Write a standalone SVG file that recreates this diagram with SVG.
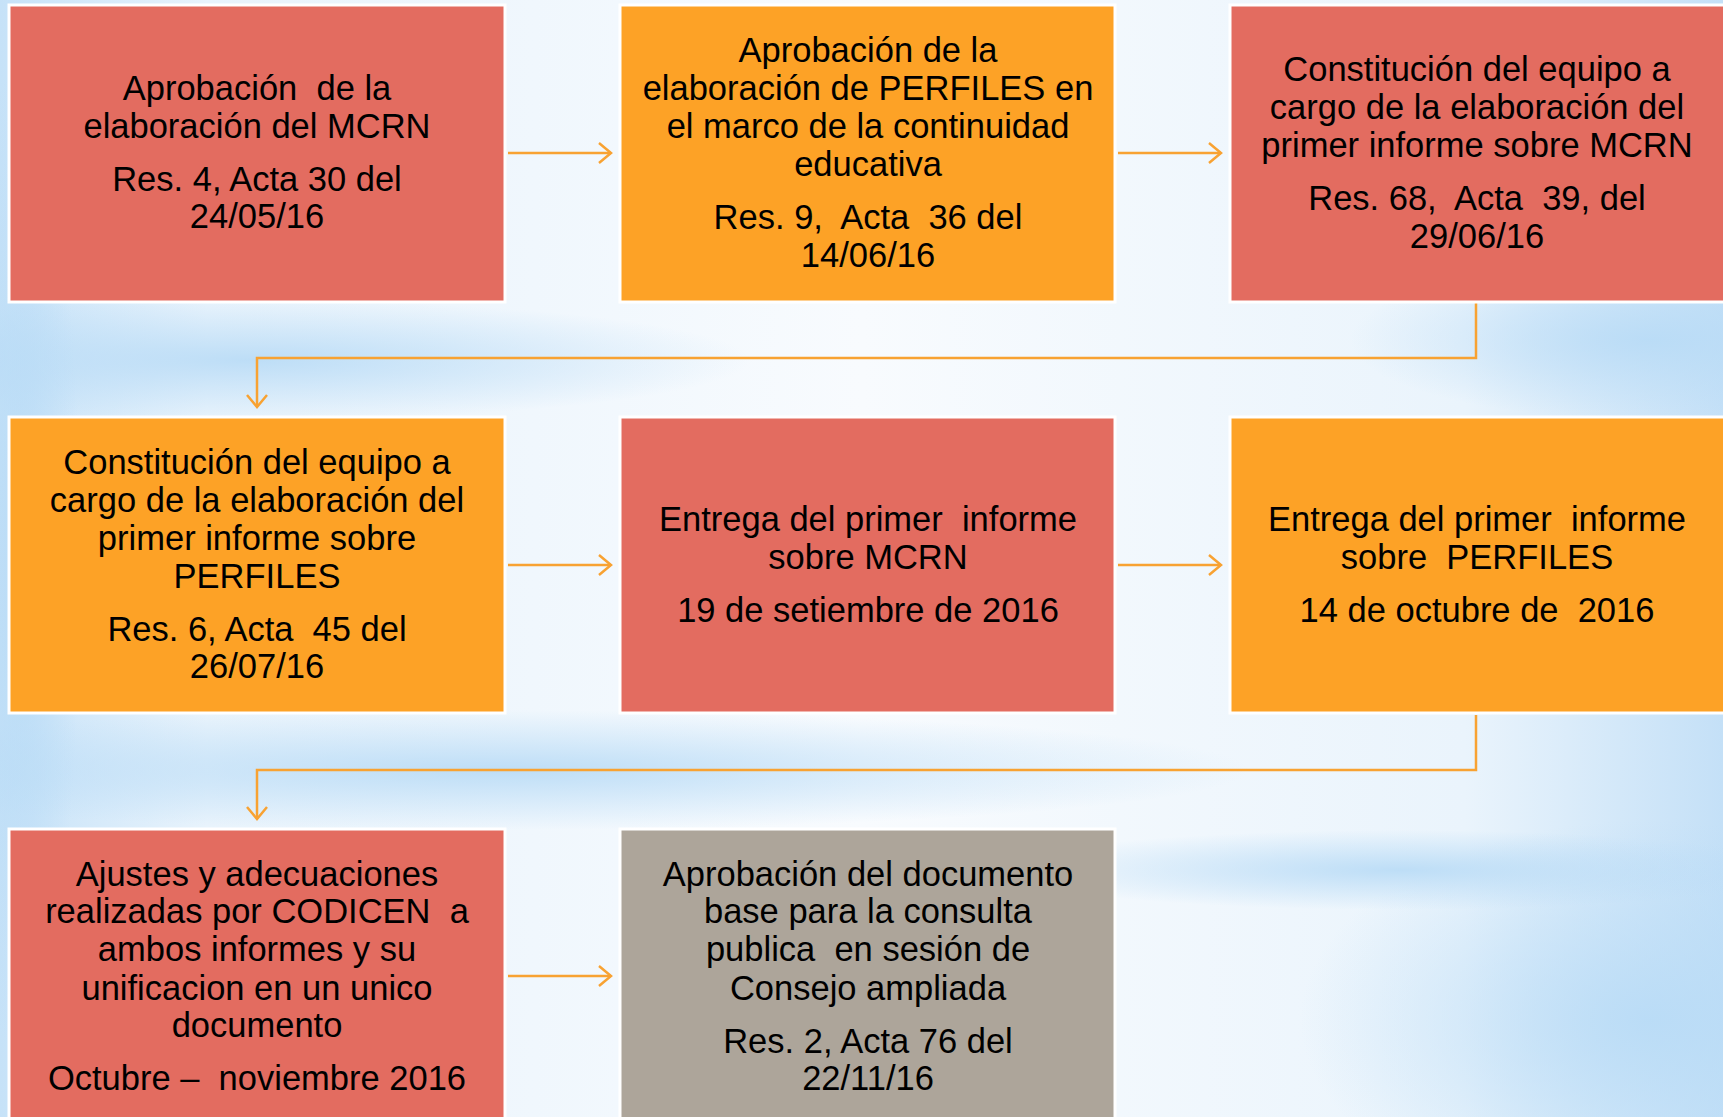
<svg xmlns="http://www.w3.org/2000/svg" width="1723" height="1117" viewBox="0 0 1723 1117">
<defs>
<style>
.box{stroke:#ffffff;stroke-width:3}
.red{fill:#e36c60}
.orange{fill:#fda226}
.gray{fill:#ada59a}
text{font-family:"Liberation Sans",Arial,sans-serif;font-size:34.5px;fill:#000;text-anchor:middle;white-space:pre}
.conn{fill:none;stroke:#f8a232;stroke-width:2.5}
</style>
<marker id="arr" markerUnits="userSpaceOnUse" markerWidth="16" markerHeight="24" viewBox="0 0 16 24" refX="14" refY="12" orient="auto">
<path d="M2,2 L14,12 L2,22" fill="none" stroke="#f8a232" stroke-width="2.5"/>
</marker>
<linearGradient id="bgH" x1="0" y1="0" x2="1" y2="0">
<stop offset="0" stop-color="#c6e2f8"/>
<stop offset="0.12" stop-color="#e8f3fc"/>
<stop offset="0.5" stop-color="#f8fbfe"/>
<stop offset="0.85" stop-color="#eaf4fc"/>
<stop offset="1" stop-color="#c4e0f7"/>
</linearGradient>
<radialGradient id="blob" cx="0.5" cy="0.5" r="0.5">
<stop offset="0" stop-color="#b8dbf6" stop-opacity="0.9"/>
<stop offset="1" stop-color="#b8dbf6" stop-opacity="0"/>
</radialGradient>
</defs>
<rect x="0" y="0" width="1723" height="1117" fill="url(#bgH)"/>
<ellipse cx="250" cy="360" rx="500" ry="60" fill="url(#blob)"/>
<ellipse cx="500" cy="770" rx="750" ry="60" fill="url(#blob)"/>
<ellipse cx="1650" cy="340" rx="300" ry="80" fill="url(#blob)"/>
<ellipse cx="1650" cy="1020" rx="350" ry="200" fill="url(#blob)"/>
<ellipse cx="1400" cy="870" rx="400" ry="40" fill="url(#blob)"/>
<ellipse cx="20" cy="560" rx="60" ry="500" fill="url(#blob)"/>

<g id="connectors">
<line class="conn" x1="508" y1="153" x2="611" y2="153" marker-end="url(#arr)"/>
<line class="conn" x1="1118" y1="153" x2="1221" y2="153" marker-end="url(#arr)"/>
<polyline class="conn" points="1476,303 1476,358 257,358 257,407" marker-end="url(#arr)"/>
<line class="conn" x1="508" y1="565" x2="611" y2="565" marker-end="url(#arr)"/>
<line class="conn" x1="1118" y1="565" x2="1221" y2="565" marker-end="url(#arr)"/>
<polyline class="conn" points="1476,715 1476,770 257,770 257,819" marker-end="url(#arr)"/>
<line class="conn" x1="508" y1="976" x2="611" y2="976" marker-end="url(#arr)"/>
</g>

<g id="node1">
<rect class="box red" x="9" y="5" width="496" height="297"/>
<text x="257" y="100">Aprobación  de la</text>
<text x="257" y="138">elaboración del MCRN</text>
<text x="257" y="191">Res. 4, Acta 30 del</text>
<text x="257" y="228">24/05/16</text>
</g>
<g id="node2">
<rect class="box orange" x="620" y="5" width="495" height="297"/>
<text x="868" y="62">Aprobación de la</text>
<text x="868" y="100">elaboración de PERFILES en</text>
<text x="868" y="138">el marco de la continuidad</text>
<text x="868" y="176">educativa</text>
<text x="868" y="229">Res. 9,  Acta  36 del</text>
<text x="868" y="267">14/06/16</text>
</g>
<g id="node3">
<rect class="box red" x="1230" y="5" width="500" height="297"/>
<text x="1477" y="81">Constitución del equipo a</text>
<text x="1477" y="119">cargo de la elaboración del</text>
<text x="1477" y="157">primer informe sobre MCRN</text>
<text x="1477" y="210">Res. 68,  Acta  39, del</text>
<text x="1477" y="248">29/06/16</text>
</g>
<g id="node4">
<rect class="box orange" x="9" y="417" width="496" height="296"/>
<text x="257" y="474">Constitución del equipo a</text>
<text x="257" y="512">cargo de la elaboración del</text>
<text x="257" y="550">primer informe sobre</text>
<text x="257" y="588">PERFILES</text>
<text x="257" y="641">Res. 6, Acta  45 del</text>
<text x="257" y="678">26/07/16</text>
</g>
<g id="node5">
<rect class="box red" x="620" y="417" width="495" height="296"/>
<text x="868" y="531">Entrega del primer  informe</text>
<text x="868" y="569">sobre MCRN</text>
<text x="868" y="622">19 de setiembre de 2016</text>
</g>
<g id="node6">
<rect class="box orange" x="1230" y="417" width="500" height="296"/>
<text x="1477" y="531">Entrega del primer  informe</text>
<text x="1477" y="569">sobre  PERFILES</text>
<text x="1477" y="622">14 de octubre de  2016</text>
</g>
<g id="node7">
<rect class="box red" x="9" y="829" width="496" height="300"/>
<text x="257" y="886">Ajustes y adecuaciones</text>
<text x="257" y="923">realizadas por CODICEN  a</text>
<text x="257" y="961">ambos informes y su</text>
<text x="257" y="1000">unificacion en un unico</text>
<text x="257" y="1037">documento</text>
<text x="257" y="1090">Octubre –  noviembre 2016</text>
</g>
<g id="node8">
<rect class="box gray" x="620" y="829" width="495" height="300"/>
<text x="868" y="886">Aprobación del documento</text>
<text x="868" y="923">base para la consulta</text>
<text x="868" y="961">publica  en sesión de</text>
<text x="868" y="1000">Consejo ampliada</text>
<text x="868" y="1053">Res. 2, Acta 76 del</text>
<text x="868" y="1090">22/11/16</text>
</g>
</svg>
